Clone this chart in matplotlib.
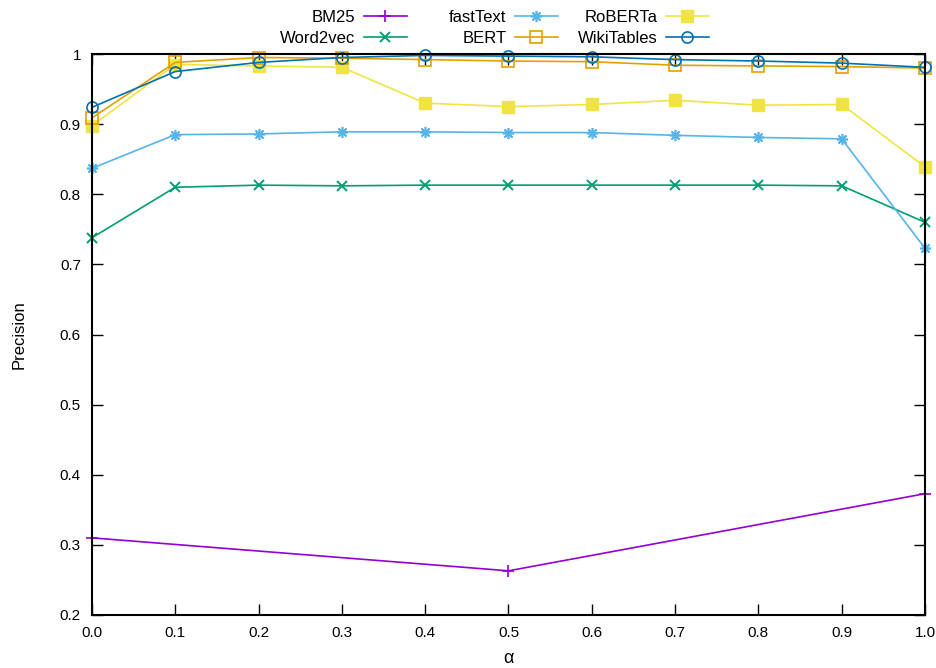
import numpy as np
import matplotlib
matplotlib.use("Agg")
import matplotlib.pyplot as plt

plt.rcParams['font.family'] = ['Liberation Sans', 'DejaVu Sans']

# alpha values
alpha = [0.0, 0.1, 0.2, 0.3, 0.4, 0.5, 0.6, 0.7, 0.8, 0.9, 1.0]
alpha_bm25 = [0.0, 0.5, 1.0]

# precision per method
bm25 = [0.310, 0.263, 0.373]
word2vec = [0.738, 0.810, 0.813, 0.812, 0.813, 0.813, 0.813, 0.813, 0.813, 0.812, 0.760]
fasttext = [0.837, 0.885, 0.886, 0.889, 0.889, 0.888, 0.888, 0.884, 0.881, 0.879, 0.723]
bert = [0.909, 0.988, 0.995, 0.994, 0.992, 0.990, 0.989, 0.984, 0.983, 0.982, 0.980]
roberta = [0.898, 0.985, 0.983, 0.981, 0.930, 0.925, 0.928, 0.934, 0.927, 0.928, 0.839]
wikitables = [0.924, 0.975, 0.988, 0.995, 0.998, 0.997, 0.996, 0.992, 0.990, 0.987, 0.981]

xtick_labels = ['0.0', '0.1', '0.2', '0.3', '0.4', '0.5', '0.6', '0.7', '0.8', '0.9', '1.0']
ytick_vals = [0.2, 0.3, 0.4, 0.5, 0.6, 0.7, 0.8, 0.9, 1.0]
ytick_labels = ['0.2', '0.3', '0.4', '0.5', '0.6', '0.7', '0.8', '0.9', '1']

W, H = 936, 668
fig = plt.figure(figsize=(W / 100, H / 100), dpi=100)
ax = fig.add_axes([92 / W, 1 - 615 / H, (925 - 92) / W, (615 - 54) / H])

lw = 1.2
ms = 8
l_bm, = ax.plot(alpha_bm25, bm25, color='#9400d3', lw=lw, marker='+', ms=ms, mew=1.2, clip_on=False)
l_w2v, = ax.plot(alpha, word2vec, color='#009e73', lw=lw, marker='x', ms=7, mew=1.4, clip_on=False)
l_ft, = ax.plot(alpha, fasttext, color='#56b4e9', lw=lw, marker=(8, 2, 0), ms=ms, mew=1.2, clip_on=False)
l_rob, = ax.plot(alpha, roberta, color='#f0e442', lw=lw, marker='s', ms=ms, mew=1.0, clip_on=False)
l_bert, = ax.plot(alpha, bert, color='#e69f00', lw=lw, marker='s', ms=ms, mfc='none', mew=1.2, clip_on=False)
l_wiki, = ax.plot(alpha, wikitables, color='#0072b2', lw=lw, marker='o', ms=ms, mfc='none', mew=1.2, clip_on=False)

ax.set_xlim(0, 1)
ax.set_ylim(0.2, 1.0)
ax.set_xticks(alpha)
ax.set_xticklabels(xtick_labels)
ax.set_yticks(ytick_vals)
ax.set_yticklabels(ytick_labels)
ax.tick_params(direction='in', length=8, width=1, top=True, right=True, labelsize=11, pad=8, colors='black')
for s in ax.spines.values():
    s.set_linewidth(1.5)

ax.set_ylabel('Precision', fontsize=12)
ax.yaxis.set_label_coords(-0.079, 0.5)
ax.set_xlabel('α', fontsize=13)
ax.xaxis.set_label_coords(0.5, -0.063)

# gnuplot-like key: three columns, text right aligned before the sample
cols = [([l_bm, l_w2v], ['BM25', 'Word2vec'], 407),
        ([l_ft, l_bert], ['fastText', 'BERT'], 558),
        ([l_rob, l_wiki], ['RoBERTa', 'WikiTables'], 709)]
for handles, labels, xr in cols:
    fig.legend(handles, labels, loc='upper right', bbox_to_anchor=(xr / W, 1 - 10 / H),
               frameon=False, markerfirst=False, borderpad=0, borderaxespad=0,
               handlelength=2.6, handletextpad=0.5, labelspacing=0.35, fontsize=12)

fig.savefig('out.png', dpi=100)
